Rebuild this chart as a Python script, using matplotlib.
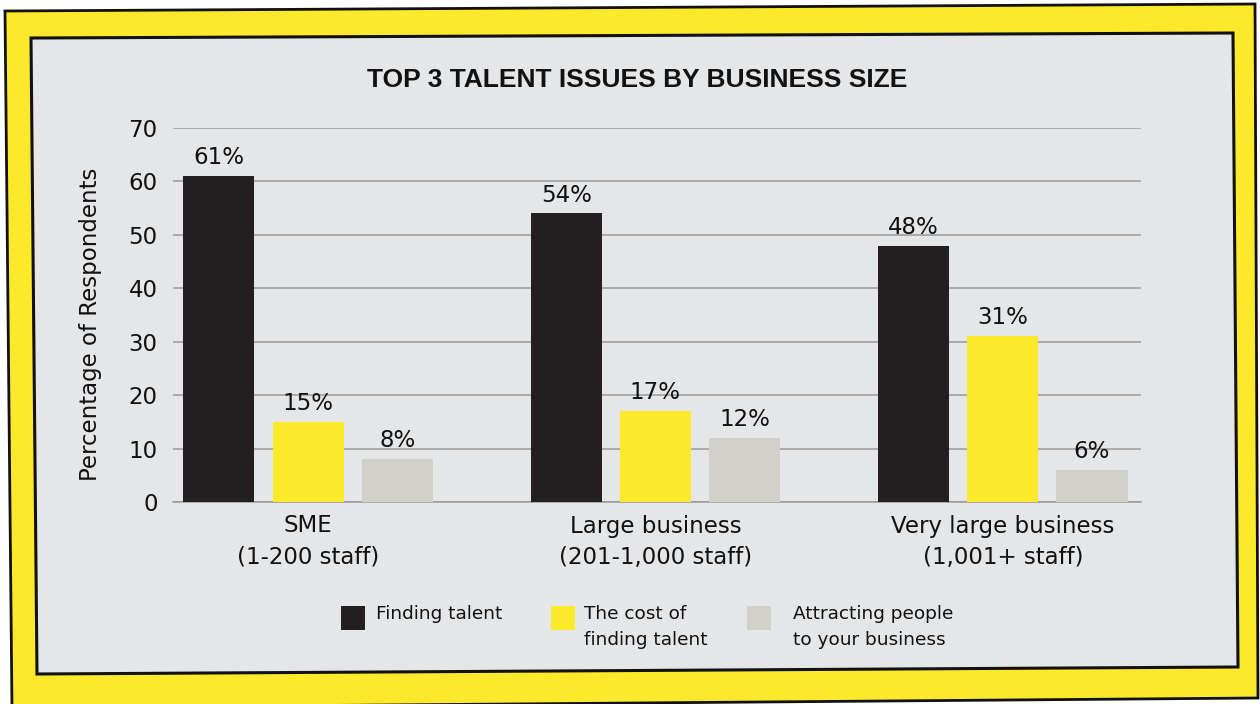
import numpy as np
import matplotlib
matplotlib.use("Agg")
from matplotlib import pyplot as plt
from matplotlib.patches import Polygon, Rectangle

# data
categories = ["SME\n(1-200 staff)", "Large business\n(201-1,000 staff)",
              "Very large business\n(1,001+ staff)"]
series_names = ["Finding talent", "The cost of\nfinding talent",
                "Attracting people\nto your business"]
finding_talent = [61, 54, 48]
cost_of_finding = [15, 17, 31]
attracting_people = [8, 12, 6]
series_values = [finding_talent, cost_of_finding, attracting_people]
colors = ["#231f20", "#fde92b", "#d1d0c9"]

W, H = 1260, 704
plt.rcParams["font.family"] = "DejaVu Sans"
fig = plt.figure(figsize=(W / 100, H / 100), dpi=100)
fig.patch.set_facecolor("white")


def px(pts):
    # pixel coords (origin top-left) -> figure fraction
    return [(x / W, 1 - y / H) for x, y in pts]


# yellow frame and grey card, slightly hand drawn
outer = Polygon(px([(5, 11), (1255, 4), (1258, 698), (12, 708)]), closed=True,
                facecolor="#fde92b", edgecolor="#111111", lw=2.0,
                transform=fig.transFigure, zorder=-2)
inner = Polygon(px([(31, 38), (1233, 33), (1238, 667), (37, 674)]), closed=True,
                facecolor="#e5e6e8", edgecolor="#111111", lw=2.2,
                transform=fig.transFigure, zorder=-1)
fig.add_artist(outer)
fig.add_artist(inner)

ax = fig.add_axes([173 / W, 1 - 502 / H, 968 / W, 374 / H])
ax.set_facecolor("none")

x = np.arange(len(categories))
width = 0.205
offsets = [-0.257, 0.0, 0.257]
for vals, off, col in zip(series_values, offsets, colors):
    bars = ax.bar(x + off, vals, width, color=col, zorder=3)
    for b, v in zip(bars, vals):
        ax.annotate(f"{v}%", (b.get_x() + b.get_width() / 2, v),
                    xytext=(0, 8.6), textcoords="offset points",
                    ha="center", va="baseline", fontsize=16.5, color="#111111")

ax.set_xlim(-0.389, 2.398)
ax.set_ylim(0, 70)
ax.set_yticks(range(0, 71, 10))
ax.yaxis.grid(True, color="#9a9a9a", lw=1.1)
ax.set_axisbelow(True)
for s in ["top", "right", "left"]:
    ax.spines[s].set_visible(False)
ax.spines["bottom"].set_color("#9a9a9a")
ax.spines["bottom"].set_linewidth(1.1)
ax.tick_params(axis="both", length=0, labelsize=16.5, colors="#111111")
ax.tick_params(axis="y", pad=11)
ax.tick_params(axis="x", pad=9)
ax.set_xticks(x, categories)
for lab in ax.get_xticklabels():
    lab.set_linespacing(1.45)

ax.set_ylabel("Percentage of Respondents", fontsize=16.5, color="#111111")
ax.yaxis.set_label_coords((102 - 173) / 968, 0.476)

fig.text(637 / W, 1 - 87 / H, "TOP 3 TALENT ISSUES BY BUSINESS SIZE",
         family="Liberation Sans", weight="bold", fontsize=19,
         ha="center", va="baseline", color="#111111")

# legend built by hand so the squares sit level with the first text line
leg_sq_x = [341, 551, 747]
leg_txt_x = [376, 584, 793]
for sx, tx, name, col in zip(leg_sq_x, leg_txt_x, series_names, colors):
    fig.add_artist(Rectangle((sx / W, 1 - 630 / H), 24 / W, 24 / H,
                             facecolor=col, edgecolor="none",
                             transform=fig.transFigure))
    fig.text(tx / W, 1 - 605 / H, name, fontsize=13.3, ha="left", va="top",
             linespacing=1.55, color="#111111")

fig.savefig("out.png", dpi=100)
